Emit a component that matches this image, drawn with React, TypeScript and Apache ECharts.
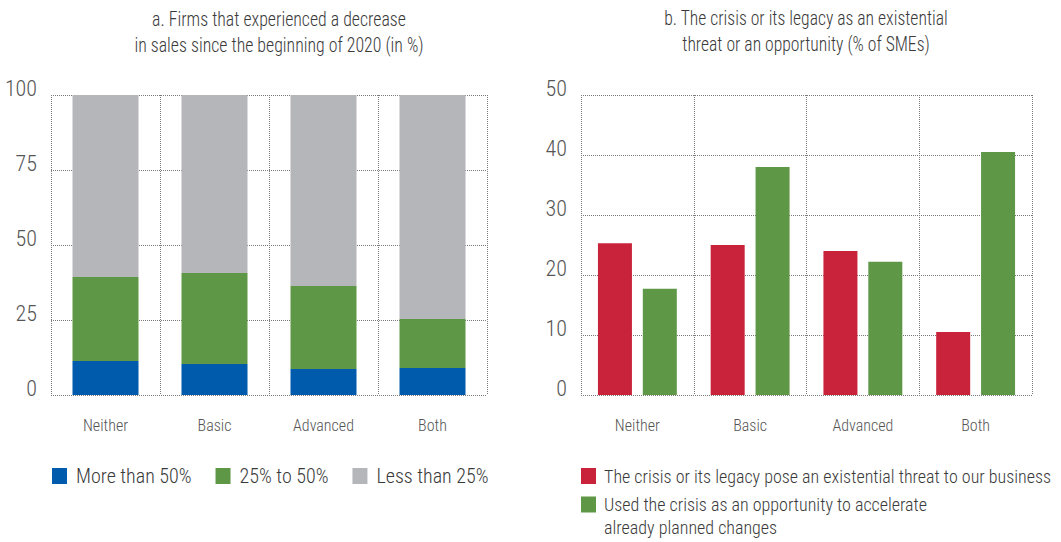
import React, { useEffect, useRef } from "react";
import * as echarts from "echarts";

const categories = ["Neither", "Basic", "Advanced", "Both"];
const moreThan50 = [11.3, 10.3, 8.7, 9.0];
const from25to50 = [28.0, 30.4, 27.6, 16.3];
const lessThan25 = [60.7, 59.3, 63.7, 74.7];
const threat = [25.3, 25.0, 24.0, 10.5];
const opportunity = [17.7, 38.0, 22.2, 40.5];
const leftTicks = { min: 0, max: 100, interval: 25 };
const rightTicks = { min: 0, max: 50, interval: 10 };
const titleA = "a. Firms that experienced a decrease\nin sales since the beginning of 2020 (in %)";
const titleB = "b. The crisis or its legacy as an existential\nthreat or an opportunity (% of SMEs)";
const nameThreat = "The crisis or its legacy pose an existential threat to our business";
const nameOpp = "Used the crisis as an opportunity to accelerate\nalready planned changes";

const FONT = "'Roboto Condensed', 'DejaVu Sans Condensed', sans-serif";
const BLUE = "#005BAC";
const GREEN = "#5E9745";
const GREY = "#B5B6B9";
const RED = "#C8233B";
const TEXT = "#3a3a3a";

export default function App() {
  const ref = useRef<HTMLDivElement>(null);
  useEffect(() => {
    document.body.style.margin = "0";
    const chart = echarts.init(ref.current!, null, { renderer: "svg" });
    const dotted = { show: true, lineStyle: { color: "#7a7a7a", type: "dotted", width: 1 } };
    const xAxisBase = {
      type: "category",
      data: categories,
      boundaryGap: true,
      axisLine: { show: false },
      axisTick: { show: false },
      splitLine: dotted,
      axisLabel: { color: "#555", fontSize: 16, fontWeight: 300, fontFamily: FONT, margin: 22 },
    };
    const yAxisBase = {
      type: "value",
      axisLine: { show: false },
      axisTick: { show: false },
      splitLine: dotted,
      axisLabel: {
        color: "#555",
        fontSize: 22,
        fontWeight: 300,
        fontFamily: FONT,
        margin: 14,
        verticalAlign: "bottom",
        lineHeight: 14,
      },
    };
    const legendBase = {
      icon: "rect",
      itemWidth: 15,
      itemHeight: 16,
      padding: 0,
      orient: "horizontal",
      align: "left",
    };
    chart.setOption({
      animation: false,
      textStyle: { fontFamily: FONT },
      grid: [
        { left: 51, top: 95, width: 436, height: 300 },
        { left: 581, top: 95, width: 451, height: 300 },
      ],
      xAxis: [
        { ...xAxisBase, gridIndex: 0 },
        { ...xAxisBase, gridIndex: 1 },
      ],
      yAxis: [
        { ...yAxisBase, gridIndex: 0, ...leftTicks },
        { ...yAxisBase, gridIndex: 1, ...rightTicks },
      ],
      legend: [
        {
          ...legendBase,
          data: ["More than 50%", "25% to 50%", "Less than 25%"],
          left: 52,
          top: 465,
          itemGap: 24,
          textStyle: { color: TEXT, fontSize: 20, fontWeight: 300, fontFamily: FONT, lineHeight: 22, padding: [0, 0, 0, 4] },
        },
        {
          ...legendBase,
          data: [nameThreat],
          left: 581,
          top: 465,
          textStyle: { color: TEXT, fontSize: 18, fontWeight: 300, fontFamily: FONT, lineHeight: 22, padding: [0, 0, 0, 3] },
        },
        {
          ...legendBase,
          data: [nameOpp],
          left: 581,
          top: 470,
          formatter: (name: string) => "\u00a0\n" + name,
          textStyle: { color: TEXT, fontSize: 18, fontWeight: 300, fontFamily: FONT, lineHeight: 23, padding: [0, 0, 0, 3] },
        },
      ],
      graphic: [
        {
          type: "text",
          x: 279,
          y: 6,
          scaleX: 0.89,
          style: { text: titleA, textAlign: "center", fill: TEXT, font: `300 20px ${FONT}`, lineHeight: 26 },
        },
        {
          type: "text",
          x: 806,
          y: 6,
          scaleX: 0.88,
          style: { text: titleB, textAlign: "center", fill: TEXT, font: `300 20px ${FONT}`, lineHeight: 26 },
        },
      ],
      series: [
        { name: "More than 50%", type: "bar", stack: "a", xAxisIndex: 0, yAxisIndex: 0, barWidth: 66, data: moreThan50, itemStyle: { color: BLUE } },
        { name: "25% to 50%", type: "bar", stack: "a", xAxisIndex: 0, yAxisIndex: 0, barWidth: 66, data: from25to50, itemStyle: { color: GREEN } },
        { name: "Less than 25%", type: "bar", stack: "a", xAxisIndex: 0, yAxisIndex: 0, barWidth: 66, data: lessThan25, itemStyle: { color: GREY } },
        { name: nameThreat, type: "bar", xAxisIndex: 1, yAxisIndex: 1, barWidth: 34, barGap: "32%", data: threat, itemStyle: { color: RED } },
        { name: nameOpp, type: "bar", xAxisIndex: 1, yAxisIndex: 1, barWidth: 34, barGap: "32%", data: opportunity, itemStyle: { color: GREEN } },
      ],
    });
    return () => chart.dispose();
  }, []);
  return <div ref={ref} style={{ width: 1061, height: 542 }} />;
}
